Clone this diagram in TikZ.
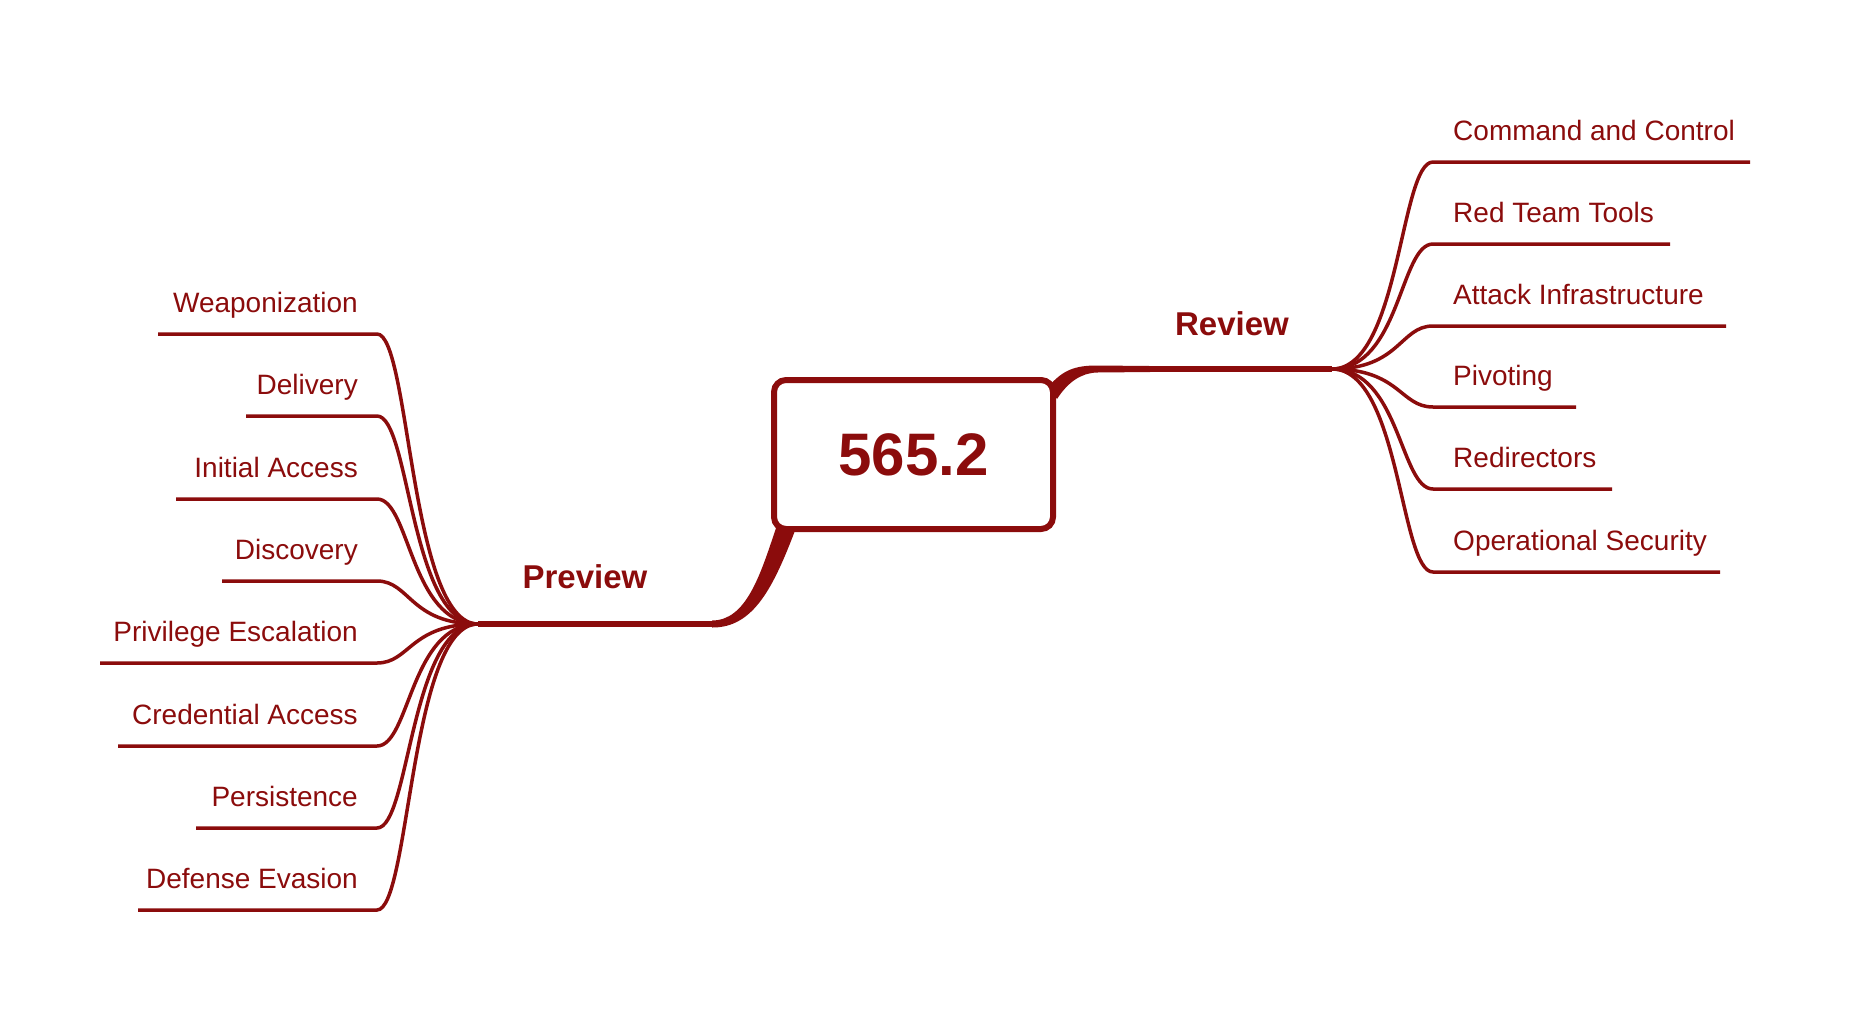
\documentclass[tikz,border=0pt]{standalone}
\usepackage{fontspec}
\setmainfont{Liberation Sans}
\definecolor{mm}{RGB}{139,12,12}
\begin{document}
\begin{tikzpicture}[x=1pt,y=-1pt,
  leaf/.style={inner sep=0pt, text=mm, font=\fontsize{28}{34}\selectfont},
  lbl/.style={inner sep=0pt, text=mm, font=\bfseries\fontsize{33}{40}\selectfont},
  branch/.style={draw=mm, line width=3.5pt},
  trunk/.style={draw=mm, line width=6pt},
  rootbox/.style={draw=mm, line width=6pt, rounded corners=12pt, minimum width=279pt,
    minimum height=149pt, inner sep=0pt, text=mm, font=\bfseries\fontsize{60}{72}\selectfont}]
\useasboundingbox (0,0) rectangle (1850,1010);
\node (root) [rootbox] at (913.5,454.5) {565.2};
% labels of the two main branches
\node (review) [lbl, anchor=base] at (1232,335) {Review};
\node (preview) [lbl, anchor=base] at (585,588) {Preview};
\coordinate (hubR) at (1332,369);
\coordinate (hubL) at (478,624);
% tapered trunk to the right
\fill[mm] (1049,386) .. controls (1063,370) and (1075,365.5) .. (1097,365.5) -- (1150,366)
  -- (1150,372) -- (1097,372.5) .. controls (1081,373) and (1068,382) .. (1057,399) -- cycle;
\draw[trunk] (1095,369) -- (hubR);
% tapered trunk to the left
\fill[mm] (776,528) .. controls (760,576) and (746,620.5) .. (712,620.5) -- (712,627.5)
  .. controls (754,628) and (774,586) .. (796,528) -- cycle;
\draw[trunk] (hubL) -- (716,624);
% right leaves
\foreach \n/\y/\e/\t in {1/162/1750/Command and Control, 2/244/1670/Red Team Tools,
  3/326/1726/Attack Infrastructure, 4/407/1576/Pivoting, 5/489/1612/Redirectors,
  6/572/1720/Operational Security}{
  \node (r\n) [leaf, anchor=base west] at (1453,{\y-22}) {\t};
  \coordinate (r\n s) at (1433,\y);
  \coordinate (r\n e) at (\e,\y);
  \draw[branch] (hubR) .. controls (1400,369) and (1400,\y) .. (r\n s) -- (r\n e);
}
% left leaves
\foreach \n/\y/\s/\t in {1/334/158/Weaponization, 2/416/246/Delivery, 3/499/176/Initial Access,
  4/581/222/Discovery, 5/663/100/Privilege Escalation, 6/746/118/Credential Access,
  7/828/196/Persistence, 8/910/138/Defense Evasion}{
  \node (l\n) [leaf, anchor=base east] at (358,{\y-21.5}) {\t};
  \coordinate (l\n s) at (377,\y);
  \coordinate (l\n e) at (\s,\y);
  \draw[branch] (hubL) .. controls (410,624) and (410,\y) .. (l\n s) -- (l\n e);
}
\end{tikzpicture}
\end{document}
